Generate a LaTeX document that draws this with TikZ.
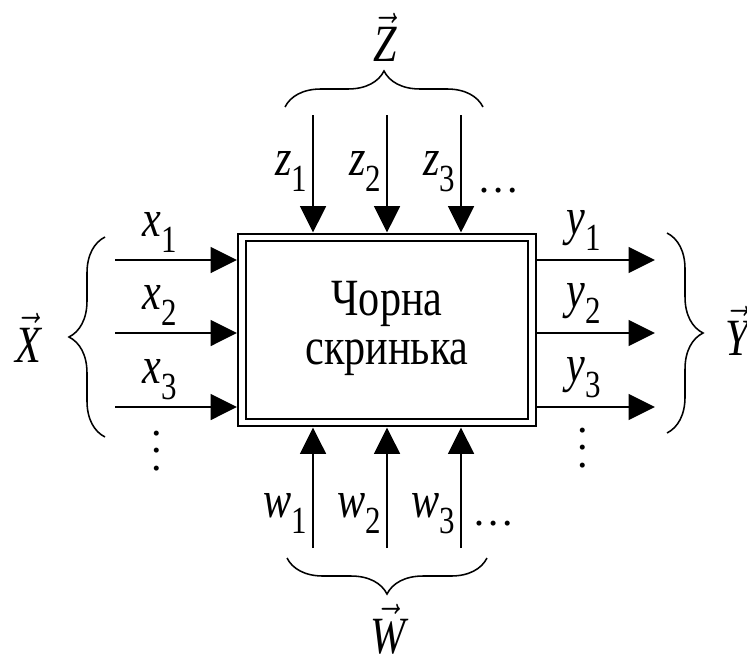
\documentclass[tikz,border=0pt]{standalone}
\usepackage{fix-cm}
\usepackage{graphicx}
\usepackage{fontspec}
\setmainfont{Liberation Serif}
\usetikzlibrary{arrows.meta, positioning, calc, decorations.pathreplacing}

\newcommand{\tall}[1]{\scalebox{1}[1.24]{#1}}
\newcommand{\sig}[2]{\tall{\textit{#1}\raisebox{-0.32em}{\fontsize{22}{22}\selectfont #2}}}
\newcommand{\vecsig}[1]{\tall{$\vec{\textit{#1}}$}}

\begin{document}
\begin{tikzpicture}[
    x=0.025cm, y=-0.025cm,
    every node/.style={font=\fontsize{30}{28}\selectfont},
    blackbox/.style={rectangle, draw, double, line width=1.3pt, double distance=4.2pt, minimum width=7.25cm, minimum height=4.625cm, outer sep=3.5pt, align=center},
    sigarrow/.style={line width=2pt, -{Triangle[length=6.6mm, width=6.4mm]}},
    bracket/.style={decorate, decoration={brace, amplitude=0.9cm}, line width=1.1pt},
    vdotsnode/.style={align=center, font=\fontsize{30}{12.5}\selectfont},
]
\useasboundingbox (0,0) rectangle (747,657);

\node[blackbox] (box) at (387,330) {\tall{\begin{tabular}{@{}c@{}}Чорна\\скринька\end{tabular}}};

% inputs x and outputs y
\foreach \i/\y in {1/260, 2/333, 3/407} {
    \coordinate (xs\i) at (115,\y);
    \coordinate (ye\i) at (655,\y);
    \draw[sigarrow] (xs\i) -- (xs\i -| box.west);
    \draw[sigarrow] (box.east |- ye\i) -- (ye\i);
    \node[anchor=base] (xl\i) at (160,\y-24) {\sig{x}{\i}};
    \node[anchor=base] (yl\i) at (584,\y-26) {\sig{y}{\i}};
}

% inputs z and w
\foreach \i/\x in {1/313, 2/387, 3/461} {
    \coordinate (zs\i) at (\x,115);
    \coordinate (ws\i) at (\x,548);
    \draw[sigarrow] (zs\i) -- (zs\i |- box.north);
    \draw[sigarrow] (ws\i) -- (ws\i |- box.south);
    \node[anchor=base east] (zl\i) at (\x-1,175) {\sig{z}{\i}};
    \node[anchor=base east] (wl\i) at (\x-1,517) {\sig{w}{\i}};
}

\node[anchor=base west] (zdots) at (473,192) {\dots};
\node[anchor=base west] (wdots) at (468,525) {\dots};
\node[vdotsnode] (xdots) at (157,451) {.\\.\\.};
\node[vdotsnode] (ydots) at (583,448) {.\\.\\.};

% braces and vectors
\draw[bracket] (285,107) -- (483,107);
\draw[bracket] (487,558) -- (287,558);
\draw[bracket] (105,437) -- (105,237);
\draw[bracket] (667,233) -- (667,433);

\node[anchor=base] (zvec) at (385,62) {\vecsig{Z}};
\node[anchor=base] (wvec) at (388,653) {\vecsig{W}};
\node[anchor=base] (xvec) at (28,362) {\vecsig{X}};
\node[anchor=base] (yvec) at (737,355) {\vecsig{Y}};

\end{tikzpicture}
\end{document}
